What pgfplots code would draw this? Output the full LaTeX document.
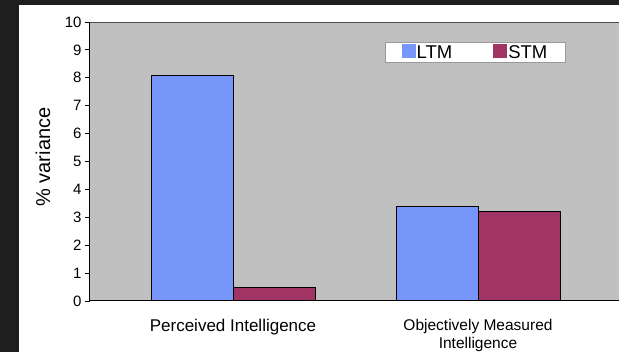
\documentclass[border=0pt]{standalone}
\usepackage{pgfplots}
\pgfplotsset{compat=1.18}
\usepackage{fontspec}
\setmainfont{Liberation Sans}
\definecolor{frame}{RGB}{30,30,30}
\definecolor{plotbg}{RGB}{192,192,192}
\definecolor{ltm}{RGB}{118,150,250}
\definecolor{stm}{RGB}{160,52,100}
\begin{document}
\begin{tikzpicture}
\path[use as bounding box] (0pt,0pt) rectangle (619pt,352pt);
\fill[frame] (0pt,0pt) rectangle (619pt,352pt);
\fill[white] (19pt,0pt) rectangle (619pt,347pt);
\begin{axis}[
  at={(90pt,51pt)}, anchor=south west,
  scale only axis, width=529pt, height=279pt,
  ymin=0, ymax=10, ytick={0,1,...,10},
  xmin=-0.5837, xmax=1.5755,
  xtick={0,1},
  xticklabels={{\fontsize{17}{20}\selectfont Perceived Intelligence},{Objectively Measured\\Intelligence}},
  xticklabel style={align=center, anchor=north, yshift=-10pt, font=\fontsize{15.5}{17.5}\selectfont},
  xtick style={draw=none},
  ybar=0pt, bar width=82pt,
  axis background/.style={fill=plotbg},
  axis x line*=bottom, axis y line*=left,
  axis line style={black, line width=1pt},
  tick align=outside, major tick length=5pt,
  ytick style={black, line width=0.8pt},
  yticklabel style={font=\fontsize{15}{18}\selectfont},
  /pgf/number format/assume math mode=true,
  ylabel={\% variance},
  ylabel style={font=\fontsize{20}{24}\selectfont, at={(axis description cs:-0.0888,0.516)}, anchor=center},
  legend style={at={(0.7278,0.891)}, anchor=center, draw=gray!80, fill=white,
    font=\fontsize{18.5}{20}\selectfont, inner xsep=16.5pt, inner ysep=1pt,
    nodes={inner xsep=1pt},
    /tikz/every even column/.append style={column sep=40pt}},
  legend columns=2,
]
\addplot[fill=ltm, draw=black, line width=1pt,
  legend image code/.code={\fill[ltm] (0pt,-5pt) rectangle (13pt,8pt);}]
  coordinates {(0,8.1) (1,3.4)};
\addplot[fill=stm, draw=black, line width=1pt,
  legend image code/.code={\fill[stm] (0pt,-5pt) rectangle (13pt,8pt);}]
  coordinates {(0,0.5) (1,3.2)};
\legend{LTM,STM}
\draw[black!70, line width=0.8pt] (rel axis cs:0,1) -- (rel axis cs:1,1);
\end{axis}
\end{tikzpicture}
\end{document}
